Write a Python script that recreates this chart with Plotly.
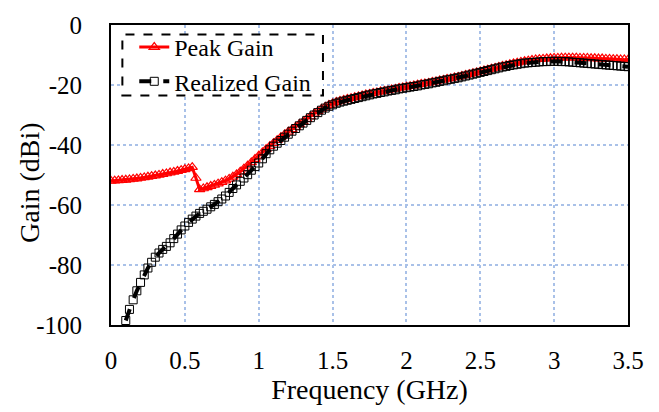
import plotly.graph_objects as go

# Peak Gain (dBi), frequency 0 .. 3.5 GHz step 0.025
peak_gain = [
    -52.0, -51.9, -51.8, -51.7, -51.6, -51.5, -51.3, -51.2, -51.0, -50.8,
    -50.6, -50.4, -50.2, -50.0, -49.7, -49.5, -49.2, -49.0, -48.7, -48.4,
    -48.1, -47.8, -47.4, -51.0, -54.8, -54.5, -54.1, -53.7, -53.3, -52.9,
    -52.4, -51.9, -51.3, -50.6, -49.8, -48.9, -47.9, -46.9, -45.8, -44.7,
    -43.6, -42.5, -41.4, -40.4, -39.4, -38.4, -37.4, -36.5, -35.6, -34.8,
    -34.0, -33.1, -32.3, -31.4, -30.5, -29.6, -28.8, -28.0, -27.3, -26.7,
    -26.2, -25.7, -25.3, -25.0, -24.7, -24.4, -24.1, -23.8, -23.5, -23.2,
    -23.0, -22.7, -22.5, -22.2, -22.0, -21.8, -21.5, -21.3, -21.0, -20.8,
    -20.6, -20.4, -20.2, -19.9, -19.7, -19.5, -19.3, -19.0, -18.8, -18.5,
    -18.3, -18.0, -17.8, -17.5, -17.3, -17.0, -16.7, -16.4, -16.1, -15.8,
    -15.5, -15.2, -14.9, -14.6, -14.3, -14.0, -13.7, -13.4, -13.1, -12.8,
    -12.6, -12.3, -12.1, -11.9, -11.7, -11.5, -11.4, -11.3, -11.2, -11.1,
    -11.0, -11.0, -10.9, -10.9, -10.9, -10.9, -10.9, -11.0, -11.0, -11.0,
    -11.1, -11.1, -11.2, -11.2, -11.3, -11.3, -11.4, -11.4, -11.5, -11.5,
    -11.6,
]
peak_start, step = 0.0, 0.025

# Realized Gain (dBi), frequency 0.1 .. 3.5 GHz step 0.025
realized_gain = [
    -98.5, -94.8, -91.6, -88.6, -85.8, -83.3, -81.0, -79.1, -77.4, -76.0,
    -74.8, -73.8, -72.6, -71.2, -69.7, -68.3, -67.0, -65.8, -64.7, -63.7,
    -62.8, -62.1, -61.4, -60.6, -59.8, -58.9, -58.0, -57.0, -55.8, -54.5,
    -53.3, -52.1, -51.0, -49.9, -48.4, -47.2, -46.0, -44.6, -42.9, -41.6,
    -40.4, -39.4, -38.5, -37.4, -36.4, -35.4, -34.5, -33.6, -32.7, -31.8,
    -30.9, -30.0, -29.2, -28.4, -27.7, -27.1, -26.6, -26.1, -25.7, -25.4,
    -25.1, -24.8, -24.5, -24.2, -23.9, -23.6, -23.3, -23.0, -22.8, -22.5,
    -22.3, -22.0, -21.8, -21.6, -21.3, -21.1, -20.9, -20.7, -20.5, -20.3,
    -20.0, -19.8, -19.6, -19.3, -19.1, -18.8, -18.6, -18.3, -18.1, -17.8,
    -17.6, -17.3, -17.0, -16.7, -16.4, -16.1, -15.8, -15.5, -15.2, -14.9,
    -14.6, -14.3, -14.0, -13.8, -13.5, -13.3, -13.1, -12.9, -12.7, -12.6,
    -12.5, -12.4, -12.3, -12.2, -12.2, -12.1, -12.1, -12.1, -12.2, -12.2,
    -12.3, -12.4, -12.5, -12.6, -12.7, -12.8, -12.9, -13.0, -13.1, -13.2,
    -13.3, -13.4, -13.5, -13.6, -13.7, -13.8, -13.9,
]
realized_start = 0.1

x_ticks = [0, 0.5, 1, 1.5, 2, 2.5, 3, 3.5]
x_tick_labels = ["0", "0.5", "1", "1.5", "2", "2.5", "3", "3.5"]
y_ticks = [0, -20, -40, -60, -80, -100]
y_tick_labels = ["0", "-20", "-40", "-60", "-80", "-100"]

freq_peak = [round(peak_start + i * step, 3) for i in range(len(peak_gain))]
freq_real = [round(realized_start + i * step, 3) for i in range(len(realized_gain))]

FONT = "'Times New Roman', 'Liberation Serif', serif"

fig = go.Figure()
fig.add_trace(go.Scatter(
    x=freq_peak, y=peak_gain, mode="lines+markers", name="Peak Gain",
    line=dict(color="#FF0000", width=3),
    marker=dict(symbol="triangle-up-open", size=9, color="#FF0000",
                line=dict(width=1.2, color="#FF0000")),
))
fig.add_trace(go.Scatter(
    x=freq_real, y=realized_gain, mode="lines+markers", name="Realized Gain",
    line=dict(color="#000000", width=4, dash="dash"),
    marker=dict(symbol="square-open", size=8, color="#000000",
                line=dict(width=1, color="#000000")),
))

fig.update_layout(
    width=659, height=412,
    margin=dict(l=111, r=31, t=22, b=81),
    paper_bgcolor="white", plot_bgcolor="white",
    font=dict(family=FONT, size=25, color="black"),
    showlegend=True,
    legend=dict(x=0.045, y=1.0, xanchor="left", yanchor="top",
                bgcolor="rgba(255,255,255,0)", borderwidth=0,
                font=dict(family=FONT, size=24),
                itemwidth=30, tracegroupgap=0),
    shapes=[dict(type="rect", xref="paper", yref="paper",
                 x0=0.022, x1=0.41, y0=0.765, y1=0.968,
                 line=dict(color="black", width=2, dash="dash"),
                 fillcolor="white", layer="above")],
    annotations=[dict(text="Gain (dBi)", xref="paper", yref="paper",
                      x=-0.159, y=0.476, xanchor="center", yanchor="middle",
                      textangle=-90, showarrow=False,
                      font=dict(family=FONT, size=28, color="black"))],
)
fig.update_xaxes(
    range=[0, 3.5], tickvals=x_ticks, ticktext=x_tick_labels,
    showgrid=True, gridcolor="#A9C1E8", griddash="dot", gridwidth=1.5,
    showline=True, linecolor="black", linewidth=2, mirror=True,
    zeroline=False, ticks="", ticklabelstandoff=12,
    title=dict(text="Frequency (GHz)", font=dict(family=FONT, size=28), standoff=6),
    tickfont=dict(family=FONT, size=25),
)
fig.update_yaxes(
    range=[-100, 0], tickvals=y_ticks, ticktext=y_tick_labels,
    showgrid=True, gridcolor="#A9C1E8", griddash="dot", gridwidth=1.5,
    showline=True, linecolor="black", linewidth=2, mirror=True,
    zeroline=False, ticks="", ticklabelstandoff=22,
    tickfont=dict(family=FONT, size=25),
)

fig.write_html("out.html")
